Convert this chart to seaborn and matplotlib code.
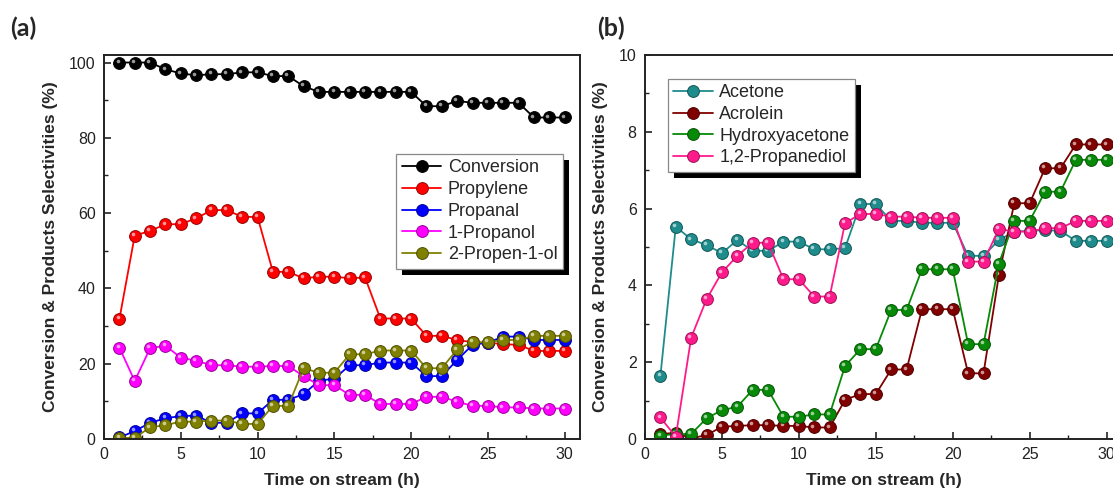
import matplotlib
matplotlib.use('Agg')
import matplotlib.pyplot as plt
import matplotlib.colors as mcolors
from matplotlib.patches import Rectangle
from matplotlib.ticker import MultipleLocator
from matplotlib.transforms import offset_copy, IdentityTransform
import seaborn as sns

# data
hours = list(range(1, 31))

# (a) conversion and main products
conversion = [100.0, 100.0, 100.0, 98.2, 97.1, 96.6, 96.9, 96.9, 97.4, 97.4,
              96.4, 96.4, 93.7, 92.2, 92.2, 92.2, 92.2, 92.2, 92.2, 92.2,
              88.4, 88.4, 89.8, 89.3, 89.3, 89.3, 89.3, 85.4, 85.4, 85.4]
propylene = [31.8, 54.0, 55.3, 57.0, 57.1, 58.6, 60.8, 60.8, 59.0, 59.0,
             44.4, 44.4, 42.7, 43.1, 43.1, 42.7, 42.9, 32.0, 32.0, 32.0,
             27.4, 27.4, 26.3, 25.7, 25.6, 25.2, 25.0, 23.4, 23.4, 23.4]
propanal = [0.4, 2.1, 4.3, 5.5, 6.1, 6.2, 4.3, 4.3, 6.8, 6.8,
            10.4, 10.4, 11.9, 15.5, 16.0, 19.6, 19.6, 20.3, 20.3, 20.3,
            16.7, 16.7, 21.0, 25.0, 25.6, 27.2, 27.2, 26.3, 26.3, 26.3]
propanol = [24.3, 15.4, 24.1, 24.8, 21.6, 20.8, 19.6, 19.6, 19.2, 19.2,
            19.4, 19.4, 16.7, 14.3, 14.3, 11.7, 11.7, 9.3, 9.3, 9.3,
            11.2, 11.2, 9.9, 8.8, 8.8, 8.4, 8.4, 8.1, 8.1, 8.1]
propenol = [0.3, 0.3, 3.1, 3.7, 4.6, 4.6, 4.9, 4.9, 4.0, 4.0,
            8.8, 8.8, 18.8, 17.6, 17.6, 22.5, 22.5, 23.5, 23.5, 23.5,
            18.8, 18.8, 23.8, 25.7, 25.7, 26.3, 26.3, 27.4, 27.4, 27.4]

# (b) minor products
acetone = [1.64, 5.53, 5.20, 5.05, 4.84, 5.18, 4.90, 4.90, 5.14, 5.14,
           4.94, 4.94, 4.97, 6.12, 6.12, 5.68, 5.68, 5.63, 5.63, 5.63,
           4.77, 4.77, 5.18, 5.40, 5.42, 5.44, 5.42, 5.16, 5.16, 5.16]
acrolein = [0.13, 0.16, 0.02, 0.10, 0.32, 0.34, 0.36, 0.36, 0.34, 0.34,
            0.30, 0.30, 1.02, 1.17, 1.17, 1.81, 1.81, 3.38, 3.38, 3.38,
            1.71, 1.71, 4.27, 6.14, 6.14, 7.05, 7.05, 7.67, 7.67, 7.67]
hydroxyacetone = [0.09, 0.13, 0.13, 0.54, 0.75, 0.84, 1.28, 1.28, 0.58, 0.58,
                  0.64, 0.64, 1.90, 2.34, 2.34, 3.36, 3.36, 4.42, 4.42, 4.42,
                  2.47, 2.47, 4.57, 5.68, 5.68, 6.44, 6.44, 7.27, 7.27, 7.27]
propanediol = [0.56, 0.06, 2.64, 3.64, 4.34, 4.77, 5.11, 5.11, 4.16, 4.16,
               3.71, 3.71, 5.62, 5.86, 5.86, 5.79, 5.79, 5.76, 5.76, 5.76,
               4.62, 4.62, 5.47, 5.40, 5.40, 5.49, 5.49, 5.68, 5.68, 5.68]

labels_a = ['Conversion', 'Propylene', 'Propanal', '1-Propanol', '2-Propen-1-ol']
series_a = [conversion, propylene, propanal, propanol, propenol]
colors_a = ['#000000', '#ff0000', '#0000ff', '#ff00ff', '#808000']

labels_b = ['Acetone', 'Acrolein', 'Hydroxyacetone', '1,2-Propanediol']
series_b = [acetone, acrolein, hydroxyacetone, propanediol]
colors_b = ['#1e8c8c', '#800000', '#078a07', '#ff1a8c']

sns.set_style('ticks')
plt.rcParams['font.family'] = ['Liberation Sans', 'DejaVu Sans']

fig = plt.figure(figsize=(11.13, 4.94), dpi=100)
ax1 = fig.add_axes([104 / 1113, 55 / 494, 476 / 1113, 384 / 494])
ax2 = fig.add_axes([645 / 1113, 55 / 494, 477 / 1113, 384 / 494])


def darker(c, f=0.6):
    r, g, b = mcolors.to_rgb(c)
    return (r * f, g * f, b * f)


def draw_panel(ax, series, labels, colors):
    hl = offset_copy(ax.transData, fig=fig, x=-1.3, y=1.3, units='points')
    for vals, name, c in zip(series, labels, colors):
        sns.lineplot(x=hours, y=vals, ax=ax, color=c, lw=1.3, marker='o',
                     markersize=8.5, markeredgecolor=darker(c),
                     markeredgewidth=0.7, label=name)
        # little highlight to give the markers a ball look
        ax.plot(hours, vals, ls='none', marker='o', ms=2.6, mew=0,
                color='white', alpha=0.6, transform=hl)


draw_panel(ax1, series_a, labels_a, colors_a)
draw_panel(ax2, series_b, labels_b, colors_b)

ax1.set_xlim(0, 31)
ax1.set_ylim(0, 102)
ax1.xaxis.set_major_locator(MultipleLocator(5))
ax1.xaxis.set_minor_locator(MultipleLocator(2.5))
ax1.yaxis.set_major_locator(MultipleLocator(20))
ax1.yaxis.set_minor_locator(MultipleLocator(10))

ax2.set_xlim(0, 31)
ax2.set_ylim(0, 10)
ax2.xaxis.set_major_locator(MultipleLocator(5))
ax2.xaxis.set_minor_locator(MultipleLocator(2.5))
ax2.yaxis.set_major_locator(MultipleLocator(2))
ax2.yaxis.set_minor_locator(MultipleLocator(1))

ylab = 'Conversion & Products Selectivities (%)'
for ax in (ax1, ax2):
    for s in ax.spines.values():
        s.set_linewidth(1.4)
        s.set_color('#222222')
    ax.tick_params(which='major', direction='in', length=5, width=1.2,
                   labelsize=11.5, pad=6, colors='#222222', labelcolor='#222222')
    ax.tick_params(which='minor', direction='in', length=3, width=1.0,
                   colors='#222222')
    ax.set_xlabel('Time on stream (h)', fontsize=12.5, fontweight='bold',
                  labelpad=8)
    ax.set_ylabel(ylab, fontsize=12.5, fontweight='bold', labelpad=8)

leg_kw = dict(fontsize=13, frameon=True, fancybox=False, framealpha=1,
              edgecolor='#888888', handlelength=2.2, handletextpad=0.35,
              labelspacing=0.26, borderpad=0.3, borderaxespad=0)
leg1 = ax1.legend(loc='upper right', bbox_to_anchor=(0.964, 0.742), **leg_kw)
leg2 = ax2.legend(loc='upper left', bbox_to_anchor=(0.048, 0.9375), **leg_kw)
for leg in (leg1, leg2):
    leg.get_frame().set_linewidth(0.9)

# black drop shadow behind the legend boxes
fig.canvas.draw()
for ax, leg in ((ax1, leg1), (ax2, leg2)):
    bb = leg.get_window_extent()
    shadow = Rectangle((bb.x0 + 6, bb.y0 - 6), bb.width, bb.height,
                       transform=IdentityTransform(), facecolor='black',
                       edgecolor='none', zorder=4.9, clip_on=False)
    ax.add_patch(shadow)

fig.text(10 / 1113, 1 - 28 / 494, '(a)', fontsize=18, fontweight='bold',
         family=['Lato', 'DejaVu Sans'], va='center', ha='left')
fig.text(597 / 1113, 1 - 28 / 494, '(b)', fontsize=18, fontweight='bold',
         family=['Lato', 'DejaVu Sans'], va='center', ha='left')

fig.savefig('out.png', dpi=100)
